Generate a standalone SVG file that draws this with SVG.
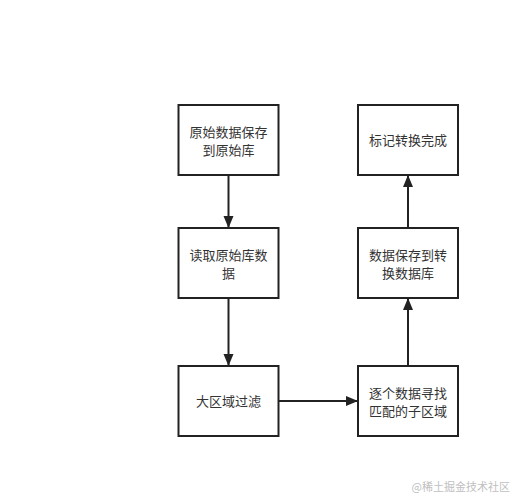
<svg xmlns="http://www.w3.org/2000/svg" width="520" height="498" viewBox="0 0 520 498">
<style>
.box{fill:#fff;stroke:#222;stroke-width:2}
.t{font-family:"Noto Sans CJK SC","Liberation Sans",sans-serif;font-size:13px;fill:#333;text-anchor:middle}
.c{fill:none;stroke:#222;stroke-width:2}
.wm{font-family:"Noto Sans CJK SC",sans-serif;font-size:11px;fill:#c0c0c0;text-anchor:end}
</style>
<defs>
<marker id="ah" markerWidth="12" markerHeight="12" viewBox="0 0 12 12" refX="12" refY="6" orient="auto" markerUnits="userSpaceOnUse">
<path d="M0,1 L12,6 L0,11 Z" fill="#222"/>
</marker>
</defs>
<rect width="520" height="498" fill="#fff"/>
<g id="connectors">
<line class="c" x1="228.5" y1="175" x2="228.5" y2="228" marker-end="url(#ah)"/>
<line class="c" x1="228.5" y1="298" x2="228.5" y2="366" marker-end="url(#ah)"/>
<line class="c" x1="278.5" y1="401" x2="358" y2="401" marker-end="url(#ah)"/>
<line class="c" x1="408" y1="366" x2="408" y2="298" marker-end="url(#ah)"/>
<line class="c" x1="408" y1="228" x2="408" y2="175" marker-end="url(#ah)"/>
</g>
<g id="n1"><rect class="box" x="178.5" y="105" width="100" height="70"/><text class="t" x="228.5" y="137">原始数据保存</text><text class="t" x="228.5" y="155">到原始库</text></g>
<g id="n2"><rect class="box" x="178.5" y="228" width="100" height="70"/><text class="t" x="228.5" y="260">读取原始库数</text><text class="t" x="228.5" y="278">据</text></g>
<g id="n3"><rect class="box" x="178.5" y="366" width="100" height="70"/><text class="t" x="228.5" y="406">大区域过滤</text></g>
<g id="n4"><rect class="box" x="358" y="366" width="100" height="70"/><text class="t" x="408" y="398">逐个数据寻找</text><text class="t" x="408" y="416">匹配的子区域</text></g>
<g id="n5"><rect class="box" x="358" y="228" width="100" height="70"/><text class="t" x="408" y="260">数据保存到转</text><text class="t" x="408" y="278">换数据库</text></g>
<g id="n6"><rect class="box" x="358" y="105" width="100" height="70"/><text class="t" x="408" y="145">标记转换完成</text></g>
<text class="wm" x="510" y="491">@稀土掘金技术社区</text>
</svg>
